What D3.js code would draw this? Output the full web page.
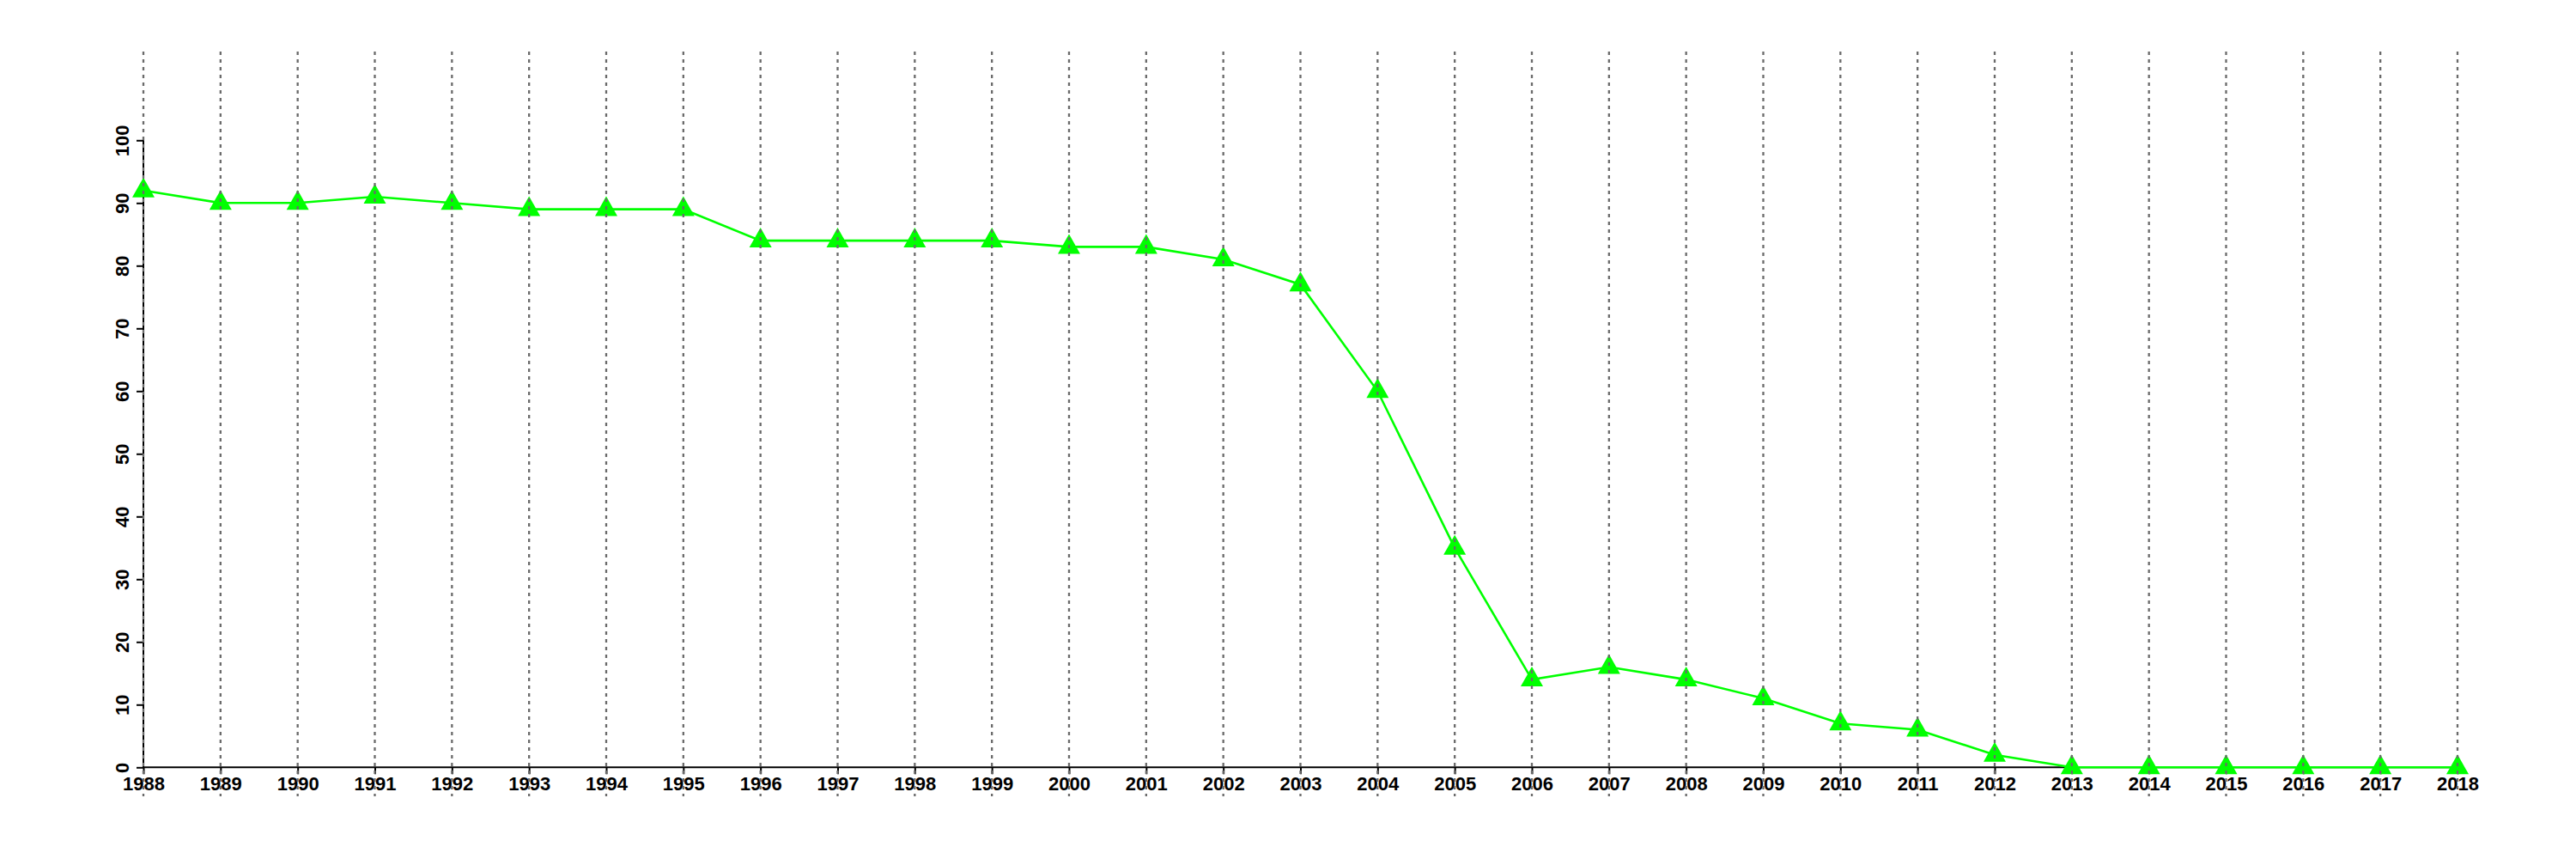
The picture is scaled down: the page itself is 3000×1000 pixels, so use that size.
<!DOCTYPE html>
<html>
<head>
<meta charset="utf-8">
<script src="https://cdn.jsdelivr.net/npm/d3@7"></script>
<style>
  html, body { margin: 0; padding: 0; background: #fff; }
  svg { display: block; }
  text { font-family: "Liberation Sans", Arial, Helvetica, sans-serif; font-weight: bold; font-size: 22px; fill: #000; }
</style>
</head>
<body>
<svg id="chart" width="3000" height="1000"></svg>
<script>
const years = [1988,1989,1990,1991,1992,1993,1994,1995,1996,1997,1998,1999,2000,2001,2002,2003,2004,2005,2006,2007,2008,2009,2010,2011,2012,2013,2014,2015,2016,2017,2018];
const values = [92,90,90,91,90,89,89,89,84,84,84,84,83,83,81,77,60,35,14,16,14,11,7,6,2,0,0,0,0,0,0];
const yTicks = [0,10,20,30,40,50,60,70,80,90,100];

const svg = d3.select("#chart");
const x = d3.scaleLinear().domain([1988, 2018]).range([167, 2862]);
const y = d3.scaleLinear().domain([0, 100]).range([893.3, 163.3]);

// x axis
const xAxis = svg.append("g").attr("transform", `translate(0,${y(0)})`)
  .call(d3.axisBottom(x).tickValues(years).tickFormat(d3.format("d")).tickSize(8).tickPadding(3).tickSizeOuter(0));
xAxis.select(".domain").attr("stroke", "#000").attr("stroke-width", 2).attr("d", `M${x(1988)},0H${x(2018)}`);
xAxis.selectAll(".tick line").attr("stroke", "#000").attr("stroke-width", 2);
xAxis.selectAll(".tick text").attr("font-size", 22).attr("font-family", "Liberation Sans, Arial, sans-serif").attr("font-weight", "bold").attr("fill", "#000");

// y axis
const yAxis = svg.append("g").attr("transform", `translate(${x(1988)},0)`)
  .call(d3.axisLeft(y).tickValues(yTicks).tickSize(8).tickSizeOuter(0).tickFormat(d3.format("d")));
yAxis.select(".domain").attr("stroke", "#000").attr("stroke-width", 2).attr("d", `M0,${y(0)}V${y(100)}`);
yAxis.selectAll(".tick line").attr("stroke", "#000").attr("stroke-width", 2);
yAxis.selectAll(".tick text")
  .attr("x", null).attr("dy", null)
  .attr("text-anchor", "middle")
  .attr("transform", "translate(-17,0) rotate(-90)")
  .attr("font-size", 22).attr("font-family", "Liberation Sans, Arial, sans-serif").attr("font-weight", "bold").attr("fill", "#000");

// line
const line = d3.line().x((d, i) => x(years[i])).y(d => y(d));
svg.append("path").datum(values)
  .attr("fill", "none").attr("stroke", "#00ff00").attr("stroke-width", 2.6)
  .attr("d", line);

// triangle markers
svg.append("g").selectAll("path").data(values).join("path")
  .attr("transform", (d, i) => `translate(${x(years[i])},${y(d)})`)
  .attr("d", "M0,-15L13,8L-13,8Z")
  .attr("fill", "#00ff00");

// vertical dotted grid lines on top
svg.append("g").selectAll("line").data(years).join("line")
  .attr("x1", d => x(d)).attr("x2", d => x(d))
  .attr("y1", 60).attr("y2", 927)
  .attr("stroke", "#6a6a6a").attr("stroke-width", 2.3)
  .attr("stroke-dasharray", "4,5");
</script>
</body>
</html>
